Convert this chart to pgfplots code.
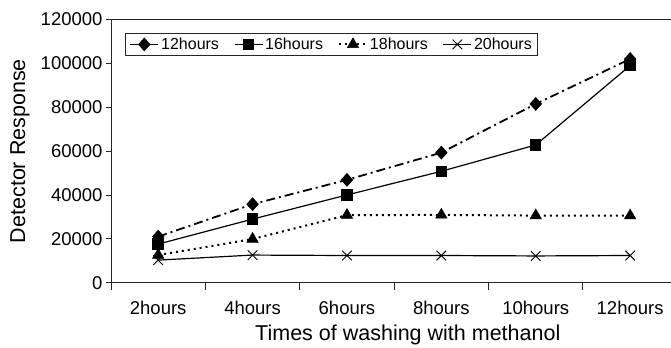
\documentclass[border=0pt]{standalone}
\usepackage{fontspec}
\setmainfont{Liberation Sans}
\usepackage{pgfplots}
\pgfplotsset{compat=1.18}
\begin{document}
\begin{tikzpicture}
\useasboundingbox (-111bp,-65.3bp) rectangle (560bp,282.7bp);
\begin{axis}[
  scale only axis,
  width=560bp, height=263.2bp,
  xmin=-0.5, xmax=5.433,
  ymin=0, ymax=120000,
  axis x line*=bottom, axis y line*=left,
  axis line style={black!85, line width=0.9bp, -},
  xtick={0,1,2,3,4,5},
  xticklabels={2hours,4hours,6hours,8hours,10hours,12hours},
  minor xtick={-0.5,0.5,1.5,2.5,3.5,4.5},
  ytick={0,20000,40000,60000,80000,100000,120000},
  scaled y ticks=false,
  yticklabel={\pgfmathprintnumber[fixed,precision=0,1000 sep={},assume math mode=true]{\tick}},
  tick align=outside,
  major tick length=5bp, minor tick length=7bp,
  every major x tick/.append style={draw=none},
  every tick/.append style={black!85, line width=0.9bp},
  tick label style={font=\fontsize{18.5bp}{21bp}\selectfont},
  xticklabel style={yshift=-10bp},
  xlabel={Times of washing with methanol},
  ylabel={Detector Response},
  label style={font=\fontsize{21.5bp}{24bp}\selectfont},
  xlabel style={at={(axis description cs:0.53,-0.197)}, anchor=center},
  ylabel style={at={(axis description cs:-0.1625,0.5)}, anchor=center},
  legend columns=4,
  legend style={at={(axis description cs:0.025,0.9487)}, anchor=north west,
    draw=black!85, line width=0.8bp, font=\fontsize{16bp}{18bp}\selectfont,
    inner xsep=4bp, inner ysep=2.5bp,
    /tikz/every even column/.append style={column sep=13bp}},
  legend image code/.code={\draw[mark repeat=2,mark phase=2,#1] plot coordinates {(0bp,0bp) (14bp,0bp) (28bp,0bp)};},
]
\addplot[black, line width=1.8bp, dash pattern=on 9bp off 4bp on 2bp off 4bp,
  mark=diamond*, mark size=6.5bp, mark options={solid, line width=0.5bp, xscale=1.2}]
  coordinates {(0,21000) (1,35800) (2,46900) (3,59300) (4,81500) (5,102000)};
\addlegendentry{12hours}
\addplot[black, line width=1.2bp, mark=square*, mark size=5.1bp, mark options={solid}]
  coordinates {(0,17600) (1,29000) (2,40000) (3,50800) (4,62800) (5,99000)};
\addlegendentry{16hours}
\addplot[black, line width=2bp, dash pattern=on 2bp off 4bp,
  mark=triangle*, mark size=6.6bp, mark options={solid, line width=0.5bp}]
  coordinates {(0,12600) (1,19900) (2,30800) (3,30900) (4,30600) (5,30600)};
\addlegendentry{18hours}
\addplot[black, line width=1.2bp, mark=x, mark size=6.8bp, mark options={solid, line width=0.9bp}]
  coordinates {(0,10300) (1,12600) (2,12400) (3,12400) (4,12200) (5,12400)};
\addlegendentry{20hours}
\draw[black!85, line width=0.9bp] (rel axis cs:0,1) -- (rel axis cs:1,1);
\end{axis}
\end{tikzpicture}
\end{document}
